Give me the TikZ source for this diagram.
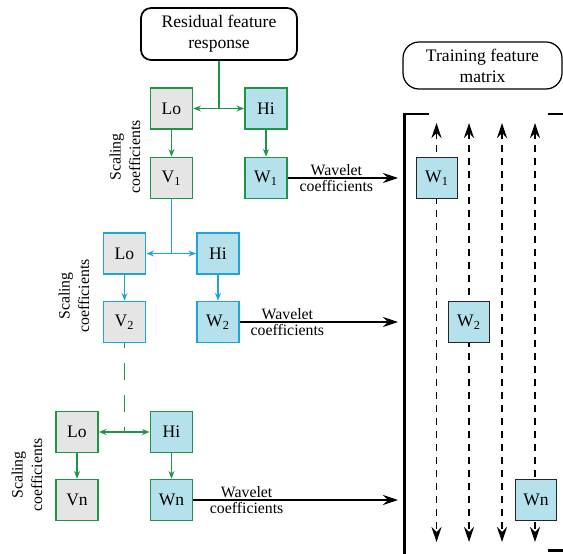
\documentclass[tikz,border=0pt]{standalone}
\usepackage{fontspec}
\setmainfont{Liberation Serif}
\usetikzlibrary{arrows.meta}

\definecolor{lvgreen}{RGB}{30,150,70}
\definecolor{lvcyan}{RGB}{30,165,215}
\definecolor{lofill}{RGB}{229,229,229}
\definecolor{hifill}{RGB}{180,225,236}

\begin{document}
\begin{tikzpicture}[x=0.02cm,y=-0.02cm,
	font=\fontsize{10}{12}\selectfont,
	filt/.style={rectangle,draw,line width=1.1pt,minimum width=0.84cm,minimum height=0.82cm,inner sep=0pt},
	lo/.style={filt,fill=lofill},
	hi/.style={filt,fill=hifill},
	mat/.style={rectangle,draw=black!85,line width=0.6pt,fill=hifill,minimum width=0.82cm,minimum height=0.82cm,inner sep=0pt},
	link/.style={line width=0.7pt,-{Stealth[length=0.15cm,width=0.12cm]}},
	big/.style={line width=0.8pt,-{Stealth[length=0.3cm,width=0.2cm,inset=0.1cm]}},
	col/.style={line width=0.8pt,dash pattern=on 0.14cm off 0.12cm,{Stealth[length=0.3cm,width=0.2cm,inset=0.1cm]}-{Stealth[length=0.3cm,width=0.2cm,inset=0.1cm]}},
	lab/.style={font=\fontsize{9}{11}\selectfont,inner sep=1pt},
	sc/.style={font=\fontsize{9}{11}\selectfont,rotate=90,align=center},
	title/.style={rectangle,draw,align=center}]

	\useasboundingbox (0,0) rectangle (563,553);

	% columns of the feature matrix
	\foreach \c in {436.5,469,502,535}
		\draw[col] (\c,123) -- (\c,542);

	\node[title,rounded corners=0.2cm,line width=1pt,minimum width=3.12cm,minimum height=1.04cm] (res) at (219,34) {Residual feature\\response};
	\node[title,rounded corners=0.32cm,line width=0.7pt,minimum width=3.18cm,minimum height=0.94cm] (tfm) at (482.5,65.5) {Training feature\\matrix};

	% level 1
	\node[lo,draw=lvgreen] (lo1) at (171.5,108.5) {Lo};
	\node[hi,draw=lvgreen] (hi1) at (266,108.5) {Hi};
	\node[lo,draw=lvgreen] (v1) at (171.5,178) {V\textsubscript{1}};
	\node[hi,draw=lvgreen] (w1) at (266,178) {W\textsubscript{1}};
	\node[sc] (sc1) at (125,157) {Scaling\\coefficients};

	% level 2
	\node[lo,draw=lvcyan] (lo2) at (124.5,253.5) {Lo};
	\node[hi,draw=lvcyan] (hi2) at (218,253.5) {Hi};
	\node[lo,draw=lvcyan] (v2) at (124.5,322) {V\textsubscript{2}};
	\node[hi,draw=lvcyan] (w2) at (218,322) {W\textsubscript{2}};
	\node[sc] (sc2) at (74,296) {Scaling\\coefficients};

	% level n
	\node[lo,draw=lvgreen] (lon) at (77,432) {Lo};
	\node[hi,draw=lvgreen] (hin) at (171.5,432) {Hi};
	\node[lo,draw=lvgreen] (vn) at (77,500) {Vn};
	\node[hi,draw=lvgreen] (wn) at (171.5,500) {Wn};
	\node[sc] (scn) at (27,475) {Scaling\\coefficients};

	% entries of the matrix
	\node[mat] (m1) at (437,178) {W\textsubscript{1}};
	\node[mat] (m2) at (469,322) {W\textsubscript{2}};
	\node[mat] (mn) at (536,500) {Wn};

	% brackets
	\draw[line width=1.7pt] (429,114) -- (404,114) -- (404,555) -- (429,555);
	\draw[line width=1.7pt] (548,114) -- (565,114);
	\draw[line width=1.7pt] (548,550) -- (565,550);

	% splitting into Lo and Hi
	\coordinate (j1) at (res.south |- lo1.east);
	\draw[lvgreen,line width=0.7pt] (res.south) -- (j1);
	\path[link,lvgreen] (j1) edge (lo1) edge (hi1);
	\path[link,lvgreen] (lo1) edge (v1) (hi1) edge (w1);

	\coordinate (j2) at (v1.south |- lo2.east);
	\draw[lvcyan,line width=0.7pt] (v1.south) -- (j2);
	\path[link,lvcyan] (j2) edge (lo2) edge (hi2);
	\path[link,lvcyan] (lo2) edge (v2) (hi2) edge (w2);

	\coordinate (jn) at (v2.south |- lon.east);
	\draw[lvgreen,line width=0.7pt,dash pattern=on 0.34cm off 0.3cm,dash phase=0.24cm] (v2.south) -- (jn);
	\path[link,lvgreen] (jn) edge (lon) edge (hin);
	\path[link,lvgreen] (lon) edge (vn) (hin) edge (wn);

	% wavelet coefficients into the matrix
	\coordinate (in) at (398,0);
	\draw[big] (w1) -- (w1 -| in) node[lab,pos=0.44,above] {Wavelet} node[lab,pos=0.44,below] {coefficients};
	\draw[big] (w2) -- (w2 -| in) node[lab,pos=0.3,above] {Wavelet} node[lab,pos=0.3,below] {coefficients};
	\draw[big] (wn) -- (wn -| in) node[lab,pos=0.26,above] {Wavelet} node[lab,pos=0.26,below] {coefficients};

\end{tikzpicture}
\end{document}
